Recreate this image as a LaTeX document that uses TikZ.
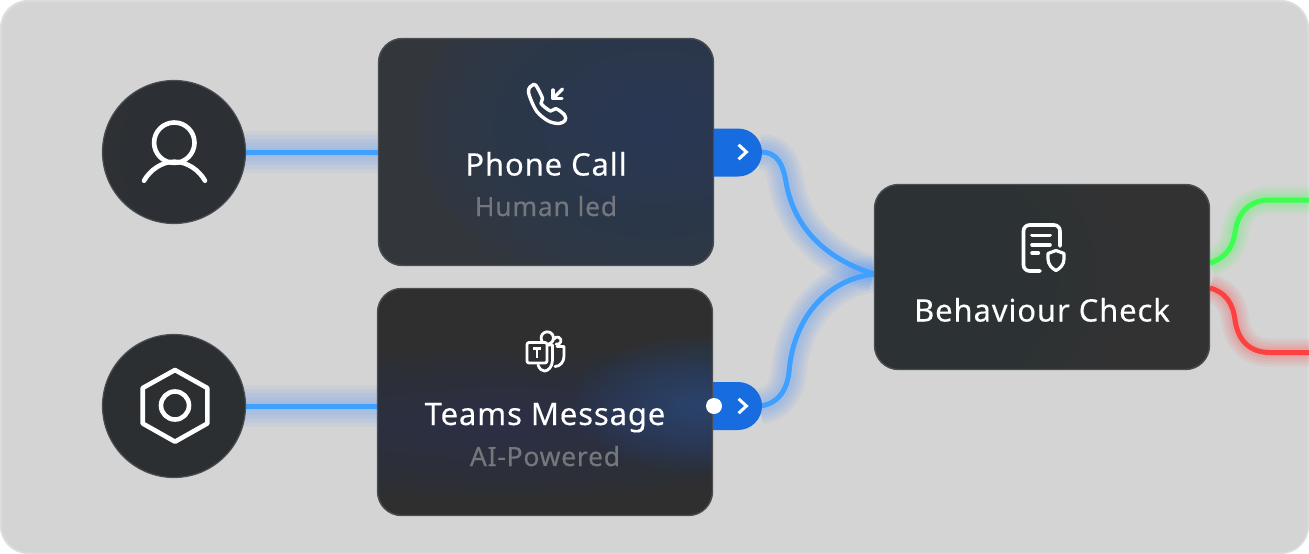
\documentclass[tikz,border=0pt]{standalone}
\usepackage{fontspec}
\setmainfont{Noto Sans}
\newfontfamily\uifont[LetterSpace=2.8,FakeBold=0.25]{Noto Sans}
\usetikzlibrary{shapes.misc}
\definecolor{panel}{HTML}{D4D4D4}
\definecolor{panelrim}{HTML}{DDDDDD}
\definecolor{cardedge}{HTML}{4A4D52}
\definecolor{phonebase}{HTML}{33373C}
\definecolor{teamsbase}{HTML}{2F2F30}
\definecolor{checkbase}{HTML}{323233}
\definecolor{userbase}{HTML}{2E3034}
\definecolor{hubbase}{HTML}{2E2F31}
\definecolor{navy}{HTML}{2A5898}
\definecolor{slateblue}{HTML}{2C4058}
\definecolor{portblue}{HTML}{176CE0}
\definecolor{wireblue}{HTML}{3FA0FF}
\definecolor{glowblue}{HTML}{3C8CFF}
\definecolor{wiregreen}{HTML}{3DFF50}
\definecolor{wirered}{HTML}{FF4040}
\definecolor{subtext}{HTML}{74787C}
\newcommand{\glowwire}[3]{%
  \foreach \w in {#2}{\draw[#1, line width=\w pt, opacity=.07, line cap=butt] #3;}}
\newcommand{\softspot}[6]{% colour, opacity, dx, dy, rx, ry
  \foreach \k in {1,...,20}{
    \fill[#1, opacity=#2/10]
      ([shift={(#3,#4)}]path picture bounding box.center)
      ellipse [x radius=#5*\k/20, y radius=#6*\k/20];}}
\tikzset{
  card/.style={draw=cardedge, line width=1.4pt, rectangle, rounded corners=24pt,
    minimum width=335pt, minimum height=227pt, inner sep=0pt, outer sep=0pt},
  disc/.style={draw=cardedge, line width=1.2pt, circle, minimum size=143pt, inner sep=0pt, outer sep=0pt},
  porttab/.style={fill=portblue, rounded rectangle, rounded rectangle west arc=none,
    minimum height=48pt, inner sep=0pt, outer sep=0pt},
  wire/.style={line width=5pt},
  title/.style={text=white, font=\uifont\fontsize{31}{34}\selectfont, inner sep=0pt, anchor=base},
  subtitle/.style={text=subtext, font=\uifont\fontsize{26.5}{30}\selectfont, inner sep=0pt, anchor=base},
  iconline/.style={draw=white, line width=3.4pt, line cap=round, line join=round},
  bigicon/.style={draw=white, line width=4.6pt, line cap=round, line join=round},
  chevron/.style={draw=white, line width=3pt, line cap=butt, line join=miter},
  dotnode/.style={circle, fill=white, minimum size=16pt, inner sep=0pt},
}
\begin{document}
\begin{tikzpicture}[x=1pt,y=-1pt]
\useasboundingbox (0,0) rectangle (1309,554);
% panel
\fill[white] (0,0) rectangle (1309,554);
\fill[panelrim,rounded corners=28pt] (0,0) rectangle (1309,554);
\fill[panel,rounded corners=27pt] (2,2) rectangle (1307.5,552.5);

% free ends of the connectors
\coordinate (merge) at (874,274);
\coordinate (greenstart) at (1210,263);
\coordinate (redstart) at (1210,288);
\coordinate (greenend) at (1309,200);
\coordinate (redend) at (1309,352.5);
\coordinate (ustub) at (380,152);
\coordinate (hstub) at (380,406);
\coordinate (ustart) at (240,152);
\coordinate (hstart) at (240,406);
\coordinate (portAend) at (760,152);
\coordinate (portBend) at (760,406);

% glows under everything
\glowwire{glowblue}{42,34,26,18,10}{(ustart) -- (ustub)}
\glowwire{glowblue}{42,34,26,18,10}{(hstart) -- (hstub)}
\def\wireA{(portAend) .. controls (778,152) and (783,165) .. (786,182) .. controls (795,235) and (835,262) .. (merge)}
\def\wireB{(portBend) .. controls (778,404) and (787,390) .. (789,372) .. controls (793,320) and (825,280) .. (merge)}
\def\wireG{(greenstart) .. controls (1225,258) and (1233,248) .. (1235,232) .. controls (1238,212) and (1250,200) .. (1270,200) -- (greenend)}
\def\wireR{(redstart) .. controls (1225,292) and (1233,303) .. (1235,320) .. controls (1238,341) and (1250,352.5) .. (1270,352.5) -- (redend)}
\glowwire{glowblue}{36,30,24,18,12}{\wireA}
\glowwire{glowblue}{36,30,24,18,12}{\wireB}
\glowwire{wiregreen}{28,23,18,13,9}{\wireG}
\glowwire{wirered}{28,23,18,13,9}{\wireR}

% connectors
\draw[wire,wireblue] (ustart) -- (ustub);
\draw[wire,wireblue] (hstart) -- (hstub);
\draw[wire,wireblue] \wireA;
\draw[wire,wireblue] \wireB;
\draw[wire,wiregreen] \wireG;
\draw[wire,wirered] \wireR;

% circles and cards
\node[disc, fill=userbase, path picture={\softspot{slateblue}{.1}{60}{0}{120}{120}}] (user) at (174,152) {};
\node[disc, fill=hubbase, path picture={\softspot{slateblue}{.02}{20}{-30}{110}{110}}] (hub) at (174,406) {};
\node[porttab, minimum width=48pt] (portA) at (738,152.5) {};
\node[porttab, minimum width=49pt] (portB) at (737.5,406) {};
\node[card, fill=phonebase, path picture={
    \softspot{navy}{.22}{110}{-25}{250}{170}}] (phone) at (546,152) {};
\node[card, fill=teamsbase, path picture={
    \softspot{slateblue}{.5}{-40}{22}{340}{74}
    \softspot{navy}{.42}{156}{3}{130}{68}}] (teams) at (545,402) {};
\node[card, minimum height=185pt, fill=checkbase, path picture={
    \softspot{slateblue}{.035}{-170}{0}{250}{190}}] (check) at (1042,277) {};

% labels
\node[title] (tphone) at (546,175.5) {Phone Call};
\node[subtitle] (sphone) at (546,216) {Human led};
\node[title] (tteams) at (545,425) {Teams Message};
\node[subtitle] (steams) at (545,466) {AI-Powered};
\node[title] (tcheck) at (1042,321.5) {Behaviour Check};

% port chevrons and dot
\draw[chevron] (738.6,144.8) -- (746.4,152) -- (738.6,159.2);
\draw[chevron] (738.6,398.8) -- (746.4,406) -- (738.6,413.2);
\node[dotnode] (pulse) at (714,406) {};

% person icon
\draw[bigicon] (174.3,142.7) circle (20.2);
\draw[bigicon] (144,180.7) .. controls (150,170) and (162,161.7) .. (174.3,161.7)
   .. controls (187,161.7) and (199,170) .. (205,180.7);
% hexagon icon
\draw[bigicon] (175,370) -- (207.3,388) -- (207.3,423.5) -- (175,441.7) -- (142.7,423.5) -- (142.7,388) -- cycle;
\draw[bigicon] (175,405.5) circle (14);

% phone icon
\draw[iconline] plot[smooth cycle, tension=.55] coordinates {(532,85.5) (535.8,85.2) (542.6,98.5) (541,103.5) (550.5,111) (555.8,108.6) (564.6,115) (565,120.5) (559,123.5) (548.3,121) (536.7,111.3) (529.5,96) (528.8,89)};
\draw[iconline] (553,90) -- (553,98.5) -- (562,98.5);
\draw[iconline] (553,98.5) -- (562.5,89);

% teams icon
\draw[iconline,line width=2.8pt,rounded corners=2pt] (527,342.5) rectangle (547,363);
\draw[iconline,line width=2.6pt,line cap=butt] (533,348.5) -- (541,348.5) (537,348.5) -- (537,358);
\draw[iconline,line width=2.8pt] (542,341.2) arc[start angle=149, end angle=440, radius=6.2];
\draw[iconline,line width=2.8pt] (553.8,339.4) arc[start angle=200, end angle=470, radius=3.7];
\draw[iconline,line width=2.8pt] (548,345) -- (552.5,345) -- (552.5,360) .. controls (552.5,367) and (548,371) .. (544.5,371) .. controls (542,371) and (539.5,369) .. (538,365);
\draw[iconline,line width=2.8pt] (557,346.5) -- (564,346.5) -- (564,356) .. controls (564,362) and (560,366.5) .. (555,366.5);

% document icon
\draw[iconline,line width=3.6pt,rounded corners=6pt] (1060,246) -- (1060,225) -- (1023.5,225) -- (1023.5,271) -- (1040,271);
\draw[iconline,line width=3.6pt] (1032,235.3) -- (1050,235.3) (1032,244.7) -- (1050,244.7) (1032,253) -- (1038.3,253);
\draw[iconline,line width=3.2pt] (1056,250.5) -- (1064,253.5) -- (1064,259) .. controls (1064,264.5) and (1060,268.5) .. (1056,270.5) .. controls (1052,268.5) and (1048,264.5) .. (1048,259) -- (1048,253.5) -- cycle;
\end{tikzpicture}
\end{document}
